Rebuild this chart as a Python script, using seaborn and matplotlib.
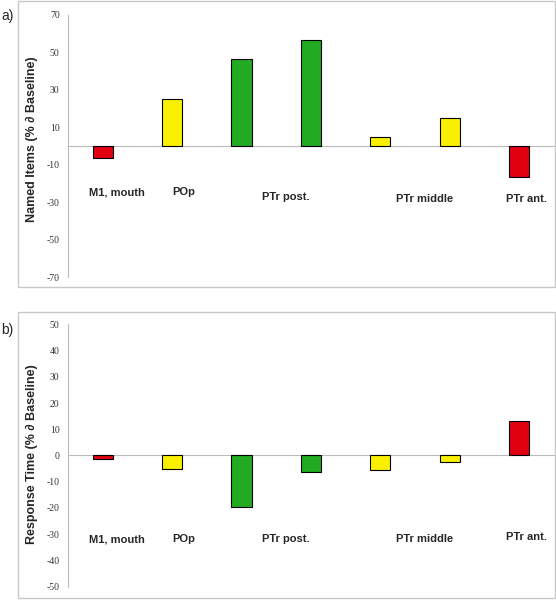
import numpy as np
import pandas as pd
import seaborn as sb
from matplotlib import pyplot as plt
from matplotlib.patches import Rectangle

sb.set_style("white")
plt.rcParams['font.family'] = ['Liberation Sans', 'DejaVu Sans']

# one bar per slot, the area names appear once under each group
slots = ["M1", "POp", "PTr post 1", "PTr post 2", "PTr mid 1", "PTr mid 2", "PTr ant"]
bar_colors = ["#e0000f", "#f8f000", "#22aa22", "#22aa22", "#f8f000", "#f8f000", "#e0000f"]
named_items = [-6.2, 25.3, 46.2, 56.7, 4.5, 14.8, -16.7]
response_time = [-1.3, -5.3, -19.8, -6.2, -5.6, -2.3, 13.2]

area_labels = ["M1, mouth", "POp", "PTr post.", "PTr middle", "PTr ant."]
label_x = [0.2, 1.17, 2.64, 4.63, 6.11]
label_y_a = [-24.8, -24.8, -27.4, -28.5, -28.5]
label_y_b = [-32.0, -32.0, -32.0, -32.0, -31.2]

fig = plt.figure(figsize=(5.56, 6.0), dpi=100)

# light grey chart-area frames
for y0 in [0.5217, 0.0033]:
    fig.patches.append(Rectangle((0.0324, y0), 0.966, 0.476, transform=fig.transFigure,
                                 fill=False, edgecolor="#c8c8c8", linewidth=1.0))

ax_a = fig.add_axes([0.1223, 0.5383, 0.874, 0.437])
ax_b = fig.add_axes([0.1223, 0.0222, 0.874, 0.4373])


def draw_panel(ax, values, ylim, yticks, ylabel, lab_y, label_ypos):
    df = pd.DataFrame({"slot": slots, "value": values})
    sb.barplot(data=df, x="slot", y="value", hue="slot", palette=bar_colors,
               legend=False, width=0.29, edgecolor="black", linewidth=0.8,
               saturation=1, ax=ax)
    ax.set_xlim(-0.5, 6.5)
    ax.set_ylim(*ylim)
    ax.set_yticks(yticks)
    ax.set_yticklabels([str(t) for t in yticks], fontsize=7, color="#333333",
                       family="Liberation Serif")
    ax.set_xticks(np.arange(-0.5, 7, 1))
    ax.set_xticklabels([])
    ax.set_xlabel("")
    ax.set_ylabel(ylabel, fontsize=9, fontweight="bold")
    ax.yaxis.set_label_coords(-0.061, label_ypos)
    for s in ["top", "right"]:
        ax.spines[s].set_visible(False)
    ax.spines["left"].set_color("#bbbbbb")
    ax.spines["bottom"].set_color("#bbbbbb")
    ax.spines["bottom"].set_position(("data", 0))
    ax.spines["bottom"].set_zorder(0)
    ax.tick_params(axis="y", length=3, color="#bbbbbb", pad=3)
    ax.tick_params(axis="x", length=3, color="#bbbbbb", direction="out")
    ax.set_facecolor("none")
    for name, x, y in zip(area_labels, label_x, lab_y):
        ax.text(x, y, name, ha="center", va="center", fontsize=8, fontweight="bold")


draw_panel(ax_a, named_items, (-70, 70), list(range(-70, 71, 20)),
           "Named Items (% ∂ Baseline)", label_y_a, 0.526)
draw_panel(ax_b, response_time, (-50, 50), list(range(-50, 51, 10)),
           "Response Time (% ∂ Baseline)", label_y_b, 0.506)

fig.text(0.002, 0.974, "a)", fontsize=10, va="center")
fig.text(0.002, 0.45, "b)", fontsize=10, va="center")

plt.savefig("out.png", dpi=100)
